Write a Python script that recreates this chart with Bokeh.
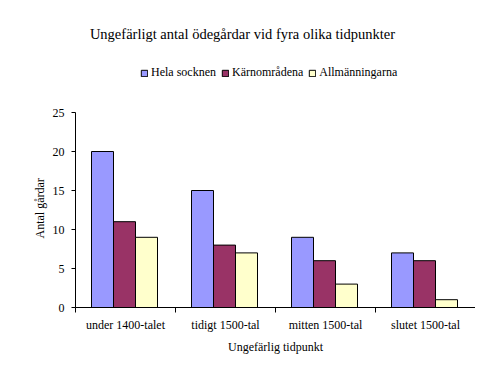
from bokeh.plotting import figure
from bokeh.models import Range1d, FixedTicker, Legend, LegendItem, Label, ColumnDataSource, Title
from bokeh.embed import file_html
from bokeh.resources import INLINE

categories = ["under 1400-talet", "tidigt 1500-tal", "mitten 1500-tal", "slutet 1500-tal"]
series = ["Hela socknen", "Kärnområdena", "Allmänningarna"]
hela = [20, 15, 9, 7]
karn = [11, 8, 6, 6]
allm = [9, 7, 3, 1]
colors = ["#9999FF", "#993366", "#FFFFCC"]
y_ticks = [0, 5, 10, 15, 20, 25]
title_text = "Ungefärligt antal ödegårdar vid fyra olika tidpunkter"
x_title = "Ungefärlig tidpunkt"
y_title = "Antal gårdar"

FONT = "Liberation Serif"
PX_PER_UNIT = 7.8
FRAME_H = 307

p = figure(frame_width=400, frame_height=FRAME_H, output_backend="svg", toolbar_location=None,
           x_range=Range1d(0, len(categories)), y_range=Range1d(0, FRAME_H / PX_PER_UNIT),
           min_border_left=75, min_border_right=0, min_border_top=0, min_border_bottom=40)
p.outline_line_color = None
p.xgrid.visible = False
p.ygrid.visible = False
p.background_fill_color = "white"
p.border_fill_color = "white"

bw = 0.22
renderers = []
for i, (name, vals, col) in enumerate(zip(series, [hela, karn, allm], colors)):
    xs = [k + 0.5 + (i - 1) * bw - 0.01 for k in range(len(categories))]
    src = ColumnDataSource(dict(x=xs, top=vals))
    r = p.vbar(x="x", top="top", width=bw, bottom=0, source=src,
               fill_color=col, line_color="black", line_width=1)
    renderers.append(r)

# x axis
xa = p.xaxis[0]
xa.ticker = FixedTicker(ticks=[k + 0.5 for k in range(len(categories))],
                        minor_ticks=list(range(len(categories) + 1)))
xa.major_label_overrides = {k + 0.5: c for k, c in enumerate(categories)}
xa.major_tick_line_color = None
xa.major_tick_in = 0
xa.major_tick_out = 0
xa.minor_tick_in = 0
xa.minor_tick_out = 5
xa.minor_tick_line_color = "black"
xa.major_label_standoff = 5
xa.axis_line_color = "black"
xa.major_label_text_font = FONT
xa.major_label_text_font_size = "12px"
xa.major_label_text_color = "black"
xa.axis_label = x_title
xa.axis_label_text_font = FONT
xa.axis_label_text_font_size = "12px"
xa.axis_label_text_font_style = "normal"
xa.axis_label_text_color = "black"
xa.axis_label_standoff = 5

ya = p.yaxis[0]
ya.ticker = FixedTicker(ticks=y_ticks, minor_ticks=[])
ya.bounds = (0, 25)
ya.major_tick_in = 0
ya.major_tick_out = 4
ya.major_tick_line_color = "black"
ya.minor_tick_line_color = None
ya.major_label_standoff = 7
ya.axis_line_color = "black"
ya.major_label_text_font = FONT
ya.major_label_text_font_size = "12px"
ya.major_label_text_color = "black"

# y axis title, placed along the 0-25 part of the axis
p.add_layout(Title(text=y_title, align="left", offset=69, standoff=6, text_font=FONT,
                   text_font_size="12px", text_font_style="normal", text_color="black"), "left")

# chart title
p.add_layout(Label(x=1.67, y=(307 - 33) / PX_PER_UNIT, text=title_text, text_align="center",
                   text_baseline="middle", text_font=FONT, text_font_size="14.5px",
                   text_color="black"))

legend = Legend(items=[LegendItem(label=s, renderers=[r]) for s, r in zip(series, renderers)],
                orientation="horizontal", location=(65, 227), padding=0, margin=0,
                glyph_width=8, glyph_height=8, label_standoff=3, spacing=5,
                label_text_font=FONT, label_text_font_size="12px",
                label_text_color="black", border_line_color=None,
                background_fill_color=None, background_fill_alpha=0)
p.add_layout(legend, "center")

open("out.html", "w").write(file_html(p, INLINE))
